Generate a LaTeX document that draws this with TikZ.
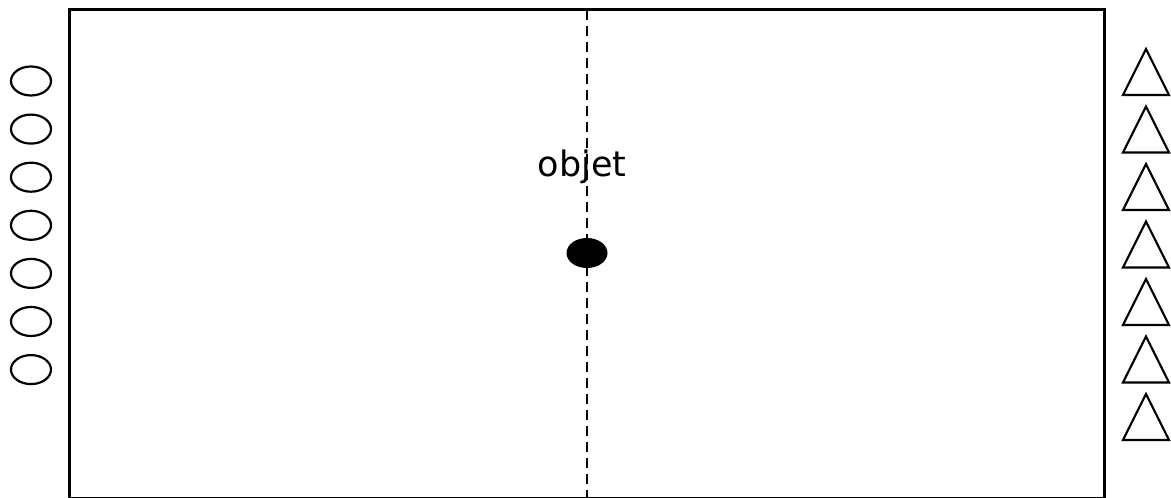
\documentclass[tikz,border=0pt]{standalone}
\usepackage{fontspec}
\setmainfont{DejaVu Sans}
\usepackage{tikz}
\usetikzlibrary{shapes.geometric,positioning}
\tikzset{
  terrain/.style = {draw, line width=3pt},
  milieu/.style  = {line width=2.6pt, dash pattern=on 10pt off 6pt},
  rond/.style    = {draw, ellipse, line width=2.2pt, minimum width=40pt,
                    minimum height=29pt, inner sep=0pt},
  balle/.style   = {fill, ellipse, minimum width=41pt, minimum height=30pt,
                    inner sep=0pt},
  tri/.style     = {draw, line width=2.2pt, line join=miter},
  lbl/.style     = {font=\fontsize{35}{38}\selectfont, inner sep=0pt}
}
\begin{document}
\begin{tikzpicture}[x=1pt, y=1pt]
\useasboundingbox (0,0) rectangle (1171,498);
% terrain
\draw[terrain] (69,-1) rectangle (1104,488);
\coordinate (haut) at (587,488);
\coordinate (bas) at (587,-1);
\draw[milieu] (haut) -- (bas);

\node[balle] (obj) at (587,245) {};
\node[lbl, anchor=base] (objlbl) at (582,321) {objet};

% joueurs ronds
\foreach \i in {0,...,6}
  \node[rond] (r\i) at (31,{417-48.1*\i}) {};

% joueurs triangles
\foreach \i in {0,...,6}
  \draw[tri] (1146,{449-57.5*\i}) -- (1169,{403-57.5*\i})
             -- (1123,{403-57.5*\i}) -- cycle;
\end{tikzpicture}
\end{document}
